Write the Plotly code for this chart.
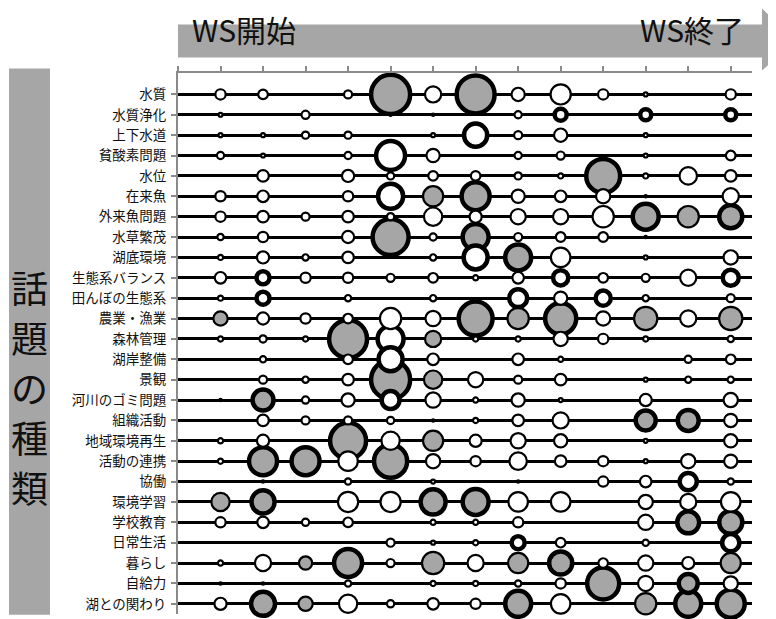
import numpy as np
import plotly.graph_objects as go

topics = ["水質", "水質浄化", "上下水道", "貧酸素問題", "水位", "在来魚", "外来魚問題",
          "水草繁茂", "湖底環境", "生態系バランス", "田んぼの生態系", "農業・漁業", "森林管理",
          "湖岸整備", "景観", "河川のゴミ問題", "組織活動", "地域環境再生", "活動の連携",
          "協働", "環境学習", "学校教育", "日常生活", "暮らし", "自給力", "湖との関わり"]
stages = list(range(1, 14))

# frequency of each topic at each workshop stage (0 = not mentioned)
freq = [
    [9, 8, 0, 6, 116, 20, 110, 14, 30, 9, 2, 0, 9],
    [2, 0, 6, 0, 1, 1, 0, 5, 16, 0, 14, 0, 14],
    [2, 2, 5, 5, 0, 2, 46, 6, 14, 0, 2, 0, 0],
    [5, 2, 0, 5, 68, 14, 0, 5, 6, 0, 2, 0, 8],
    [0, 11, 0, 12, 5, 8, 8, 5, 3, 90, 3, 23, 11],
    [9, 11, 0, 9, 53, 30, 64, 14, 11, 16, 1, 0, 20],
    [9, 11, 6, 11, 5, 25, 12, 18, 18, 33, 56, 33, 46],
    [4, 9, 0, 12, 100, 5, 56, 6, 8, 8, 1, 0, 0],
    [3, 12, 4, 11, 0, 4, 49, 56, 28, 0, 2, 0, 16],
    [11, 18, 9, 9, 6, 8, 3, 11, 23, 8, 6, 20, 25],
    [3, 18, 0, 4, 0, 4, 0, 30, 14, 23, 4, 0, 6],
    [16, 12, 9, 8, 33, 18, 90, 33, 77, 16, 39, 20, 39],
    [3, 5, 3, 110, 56, 20, 3, 3, 16, 9, 3, 0, 4],
    [0, 4, 0, 8, 49, 11, 0, 11, 3, 0, 0, 5, 8],
    [0, 6, 4, 11, 116, 25, 18, 6, 11, 0, 2, 4, 4],
    [1, 39, 5, 14, 30, 18, 3, 14, 2, 0, 12, 0, 16],
    [0, 11, 6, 6, 5, 1, 3, 11, 20, 0, 36, 39, 14],
    [3, 12, 0, 100, 25, 30, 12, 18, 14, 0, 2, 0, 14],
    [3, 64, 64, 28, 86, 16, 9, 23, 11, 9, 2, 16, 14],
    [0, 1, 0, 4, 0, 2, 0, 1, 0, 9, 11, 28, 4],
    [25, 46, 0, 30, 30, 53, 56, 28, 28, 0, 16, 20, 28],
    [9, 11, 5, 8, 0, 3, 3, 9, 0, 0, 18, 42, 46],
    [0, 0, 0, 0, 6, 2, 3, 18, 8, 0, 4, 0, 28],
    [3, 20, 14, 64, 6, 36, 20, 30, 46, 8, 18, 12, 30],
    [1, 1, 0, 4, 0, 3, 3, 4, 9, 81, 18, 33, 16],
    [12, 49, 16, 25, 5, 11, 9, 56, 28, 0, 33, 56, 64],
]

# 1 = shaded bubble
shaded = [
    [0, 0, 0, 0, 1, 0, 1, 0, 0, 0, 0, 0, 0],
    [0, 0, 0, 0, 0, 0, 0, 0, 0, 0, 0, 0, 0],
    [0, 0, 0, 0, 0, 0, 0, 0, 0, 0, 0, 0, 0],
    [0, 0, 0, 0, 0, 0, 0, 0, 0, 0, 0, 0, 0],
    [0, 0, 0, 0, 0, 0, 0, 0, 0, 1, 0, 0, 0],
    [0, 0, 0, 0, 0, 1, 1, 0, 0, 0, 0, 0, 0],
    [0, 0, 0, 0, 0, 0, 0, 0, 0, 0, 1, 1, 1],
    [0, 0, 0, 0, 1, 0, 1, 0, 0, 0, 0, 0, 0],
    [0, 0, 0, 0, 0, 0, 0, 1, 0, 0, 0, 0, 0],
    [0, 0, 0, 0, 0, 0, 0, 0, 0, 0, 0, 0, 0],
    [0, 0, 0, 0, 0, 0, 0, 0, 0, 0, 0, 0, 0],
    [1, 0, 0, 0, 0, 0, 1, 1, 1, 0, 1, 0, 1],
    [0, 0, 0, 1, 0, 1, 0, 0, 0, 0, 0, 0, 0],
    [0, 0, 0, 0, 0, 0, 0, 0, 0, 0, 0, 0, 0],
    [0, 0, 0, 0, 1, 1, 0, 0, 0, 0, 0, 0, 0],
    [0, 1, 0, 0, 0, 0, 0, 0, 0, 0, 0, 0, 0],
    [0, 0, 0, 0, 0, 0, 0, 0, 0, 0, 1, 1, 0],
    [0, 0, 0, 1, 0, 1, 0, 0, 0, 0, 0, 0, 0],
    [0, 1, 1, 0, 1, 0, 0, 0, 0, 0, 0, 0, 0],
    [0, 0, 0, 0, 0, 0, 0, 0, 0, 0, 0, 0, 0],
    [1, 1, 0, 0, 0, 1, 1, 0, 0, 0, 0, 0, 0],
    [0, 0, 0, 0, 0, 0, 0, 0, 0, 0, 0, 1, 1],
    [0, 0, 0, 0, 0, 0, 0, 0, 0, 0, 0, 0, 0],
    [0, 0, 1, 1, 0, 1, 0, 1, 1, 0, 0, 0, 1],
    [0, 0, 0, 0, 0, 0, 0, 0, 0, 1, 0, 1, 0],
    [0, 1, 1, 0, 0, 0, 0, 1, 0, 0, 1, 1, 1],
]

# 1 = emphasized (heavy outline)
emphasis = [
    [0, 0, 0, 0, 1, 0, 1, 0, 0, 0, 0, 0, 0],
    [0, 0, 0, 0, 0, 0, 0, 0, 1, 0, 1, 0, 1],
    [0, 0, 0, 0, 0, 0, 1, 0, 0, 0, 0, 0, 0],
    [0, 0, 0, 0, 1, 0, 0, 0, 0, 0, 0, 0, 0],
    [0, 0, 0, 0, 0, 0, 0, 0, 0, 1, 0, 0, 0],
    [0, 0, 0, 0, 1, 0, 1, 0, 0, 0, 0, 0, 0],
    [0, 0, 0, 0, 0, 0, 0, 0, 0, 0, 1, 0, 1],
    [0, 0, 0, 0, 1, 0, 1, 0, 0, 0, 0, 0, 0],
    [0, 0, 0, 0, 0, 0, 1, 1, 0, 0, 0, 0, 0],
    [0, 1, 0, 0, 0, 0, 0, 0, 1, 0, 0, 0, 1],
    [0, 1, 0, 0, 0, 0, 0, 1, 0, 1, 0, 0, 0],
    [0, 0, 0, 0, 0, 0, 1, 0, 1, 0, 0, 0, 0],
    [0, 0, 0, 1, 1, 0, 0, 0, 0, 0, 0, 0, 0],
    [0, 0, 0, 0, 1, 0, 0, 0, 0, 0, 0, 0, 0],
    [0, 0, 0, 0, 1, 0, 0, 0, 0, 0, 0, 0, 0],
    [0, 1, 0, 0, 1, 0, 0, 0, 0, 0, 0, 0, 0],
    [0, 0, 0, 0, 0, 0, 0, 0, 0, 0, 1, 1, 0],
    [0, 0, 0, 1, 0, 0, 0, 0, 0, 0, 0, 0, 0],
    [0, 1, 1, 0, 1, 0, 0, 0, 0, 0, 0, 0, 0],
    [0, 0, 0, 0, 0, 0, 0, 0, 0, 0, 0, 1, 0],
    [0, 1, 0, 0, 0, 1, 1, 0, 0, 0, 0, 0, 0],
    [0, 0, 0, 0, 0, 0, 0, 0, 0, 0, 0, 1, 1],
    [0, 0, 0, 0, 0, 0, 0, 1, 0, 0, 0, 0, 1],
    [0, 0, 0, 1, 0, 0, 0, 0, 1, 0, 0, 0, 0],
    [0, 0, 0, 0, 0, 0, 0, 0, 0, 1, 0, 1, 0],
    [0, 1, 0, 0, 0, 0, 0, 1, 0, 0, 0, 1, 1],
]

GREY = "#a6a6a6"
xs, ys, sizes, colors, lws = [], [], [], [], []
for r, name in enumerate(topics):
    for c, st in enumerate(stages):
        v = freq[r][c]
        if v <= 0:
            continue
        lw = 4.5 if emphasis[r][c] else 2.2
        outer = 4.0 * np.sqrt(v) + 0.5
        xs.append(st)
        ys.append(r + 1)
        sizes.append(max(outer - lw, 1.0))
        colors.append(GREY if shaded[r][c] else "white")
        lws.append(lw)

order = np.argsort(-np.array(sizes), kind="stable")
xs = [xs[i] for i in order]
ys = [ys[i] for i in order]
sizes = [sizes[i] for i in order]
colors = [colors[i] for i in order]
lws = [lws[i] for i in order]

fig = go.Figure()
fig.add_trace(go.Scatter(
    x=xs, y=ys, mode="markers", hoverinfo="skip", cliponaxis=False,
    marker=dict(size=sizes, color=colors, opacity=1,
                line=dict(color="black", width=lws)),
))

# the page adds an 8px body margin; work in page pixels and shift by OFF
OFF = 8
W, H = 776 - OFF, 619 - OFF
L, R, T, B = 178 - OFF, 752 - OFF, 72.5 - OFF, 614.2 - OFF

def px(x):
    return (x - OFF - L) / (R - L)

def py(y):
    return (B - (y - OFF)) / (B - T)

fig.update_layout(
    width=W, height=H,
    margin=dict(l=L, r=W - R, t=T, b=H - B, pad=0, autoexpand=False),
    plot_bgcolor="white", paper_bgcolor="white",
    showlegend=False,
    font=dict(family="Noto Sans CJK JP", color="#111"),
    xaxis=dict(range=[0, 13.5], side="top", tickvals=list(range(0, 14)),
               showticklabels=False, ticks="outside", ticklen=5, tickwidth=1.5,
               tickcolor="#8a8a8a", showline=True, linecolor="#8a8a8a", linewidth=2,
               showgrid=False, zeroline=False, fixedrange=True, automargin=False),
    yaxis=dict(range=[26.5, -0.05], tickvals=list(range(1, 27)), ticktext=topics,
               ticks="outside", ticklen=5, tickwidth=1.5, tickcolor="#8a8a8a",
               showline=True, linecolor="#8a8a8a", linewidth=2,
               showgrid=True, gridcolor="black", gridwidth=2.5, zeroline=False,
               tickfont=dict(size=13.5, color="#111", family="Noto Sans CJK JP"),
               ticklabelstandoff=2, fixedrange=True, automargin=False),
)

# top arrow (WS start -> WS end), page pixel coordinates
bx0, bx1, by0, by1 = 178, 762, 24, 57
hx_tip, hy0, hy1 = 796, 8, 70
ymid = (by0 + by1) / 2
path = (f"M {px(bx0)} {py(by0)} L {px(bx1)} {py(by0)} L {px(bx1)} {py(hy0)} "
        f"L {px(hx_tip)} {py(ymid)} L {px(bx1)} {py(hy1)} L {px(bx1)} {py(by1)} "
        f"L {px(bx0)} {py(by1)} Z")
fig.add_shape(type="path", path=path, xref="paper", yref="paper",
              fillcolor=GREY, line=dict(width=0), layer="above")

fig.add_annotation(text="WS開始", x=px(190), y=py(28), xref="paper", yref="paper",
                   xanchor="left", yanchor="middle", showarrow=False,
                   font=dict(size=30, color="#111", family="Noto Sans CJK JP"))
fig.add_annotation(text="WS終了", x=px(746), y=py(28), xref="paper", yref="paper",
                   xanchor="right", yanchor="middle", showarrow=False,
                   font=dict(size=30, color="#111", family="Noto Sans CJK JP"))

# left category box
fig.add_shape(type="rect", x0=px(9), x1=px(50), y0=py(68), y1=py(615),
              xref="paper", yref="paper", fillcolor=GREY, line=dict(width=0))
for i, ch in enumerate("話題の種類"):
    fig.add_annotation(text=ch, x=px(29.5), y=py(287 + i * 50), xref="paper", yref="paper",
                       xanchor="center", yanchor="middle", showarrow=False, borderpad=0,
                       font=dict(size=37, color="#111", family="Noto Sans CJK JP"))

fig.write_html("out.html")
